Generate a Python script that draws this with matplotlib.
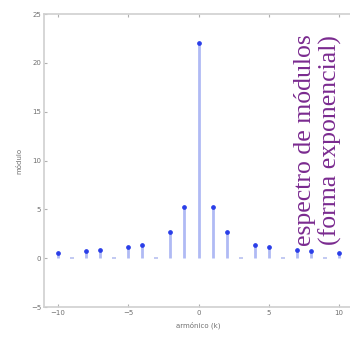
import matplotlib
matplotlib.use("Agg")
import matplotlib.pyplot as plt
import numpy as np

# harmonic index and |c_k|
k = np.arange(-10, 11)
mod = np.array([0.55, 0.0, 0.72, 0.82, 0.0, 1.1, 1.33, 0.0, 2.7, 5.26, 22.0,
                5.26, 2.7, 0.0, 1.33, 1.1, 0.0, 0.82, 0.72, 0.0, 0.55])
xticks = [-10, -5, 0, 5, 10]
yticks = [-5, 0, 5, 10, 15, 20, 25]

gray = '#b0b0b0'
fig = plt.figure(figsize=(3.5, 3.38), dpi=100)
ax = fig.add_axes([44/350, 31/338, 309/350, 293/338])

nz = mod > 0
ml, sl, bl = ax.stem(k[nz], mod[nz], basefmt=' ')
plt.setp(sl, color='#b0baf4', linewidth=2)
plt.setp(ml, color='#2a3ee8', markersize=2.4)
# zero harmonics barely show
ax.plot(k[~nz], mod[~nz], '_', color='#b8c0f0', markersize=3, mew=1.2)

ax.set_xlim(-11, 11)
ax.set_ylim(-5, 25)
ax.set_xticks(xticks)
ax.set_yticks(yticks)
ax.tick_params(direction='in', length=2, color=gray, labelcolor='#707070',
               labelsize=5, top=True, right=True, pad=2)
for s in ax.spines.values():
    s.set_color('#d0d0d0')
    s.set_linewidth(1.2)
ax.spines['right'].set_visible(False)

ax.set_xlabel('armónico (k)', fontsize=5, color='#707070', labelpad=4)
ax.set_ylabel('módulo', fontsize=5, color='#707070', labelpad=6)

fig.text(318/350, 1 - 140/338, 'espectro de módulos\n(forma exponencial)',
         rotation=90, ha='center', va='center', color='#7a2a8f',
         family='Liberation Serif', fontsize=18.5, linespacing=1.12)

fig.savefig('out.png', dpi=100)
